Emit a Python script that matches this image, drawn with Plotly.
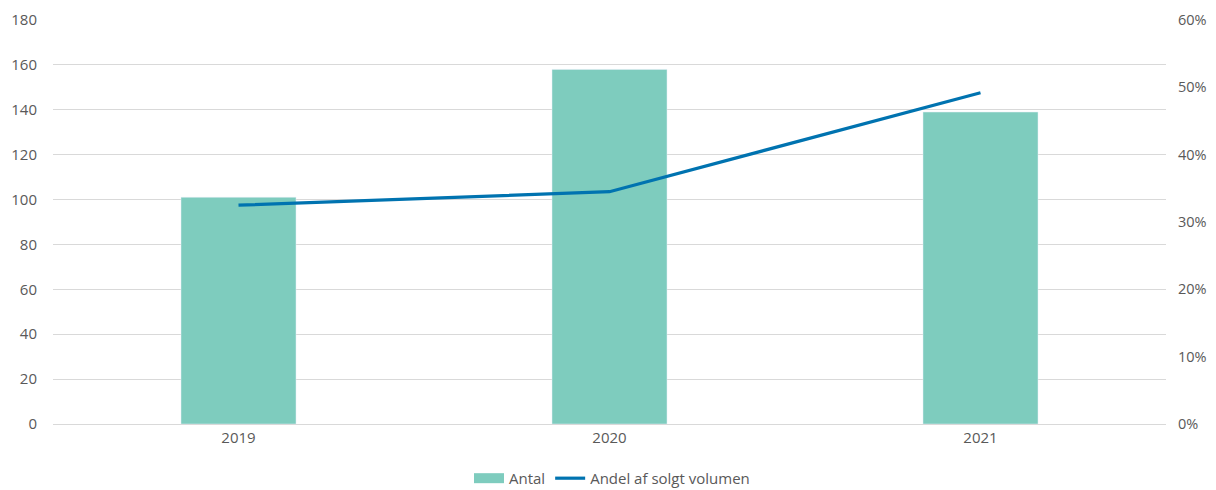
import plotly.graph_objects as go

years = ["2019", "2020", "2021"]
antal = [101, 158, 139]
andel = [0.325, 0.345, 0.492]

left_ticks = [0, 20, 40, 60, 80, 100, 120, 140, 160, 180]
right_ticks = [0, 0.1, 0.2, 0.3, 0.4, 0.5, 0.6]
right_labels = ["0%", "10%", "20%", "30%", "40%", "50%", "60%"]

font_fam = "Open Sans, Lato, sans-serif"
gray = "#595959"
bar_color = "#7ECCBE"

fig = go.Figure()
fig.add_trace(go.Bar(x=years, y=antal, name="Antal", marker_color=bar_color,
                     width=0.31, yaxis="y", showlegend=False, legendgroup="a"))
# legend-only entry to show a wide rectangle swatch like the original
fig.add_trace(go.Scatter(x=[None], y=[None], name="Antal", mode="lines",
                         line=dict(color=bar_color, width=12), legendgroup="a",
                         yaxis="y"))
fig.add_trace(go.Scatter(x=years, y=andel, name="Andel af solgt volumen",
                         mode="lines", line=dict(color="#0073B0", width=3.2),
                         yaxis="y2"))

# page body has an 8px default margin, so the figure is sized/offset accordingly
fig.update_layout(
    width=1208, height=482,
    margin=dict(l=45, r=50, t=12, b=66),
    plot_bgcolor="white", paper_bgcolor="white",
    font=dict(family=font_fam, size=15, color=gray),
    xaxis=dict(showgrid=False, showline=True, linecolor="#d9d9d9", linewidth=1,
               tickfont=dict(size=15, color=gray), ticks="", automargin=False),
    yaxis=dict(range=[0, 180], tickvals=left_ticks, showgrid=True,
               gridcolor="#d9d9d9", gridwidth=1, zeroline=False, showline=False,
               tickfont=dict(size=15, color=gray), ticklabelstandoff=15,
               automargin=False),
    yaxis2=dict(range=[0, 0.6], tickvals=right_ticks, ticktext=right_labels,
                overlaying="y", side="right", showgrid=False, zeroline=False,
                showline=False, tickfont=dict(size=14.5, color=gray),
                ticklabelstandoff=11, automargin=False),
    legend=dict(orientation="h", x=0.5, xanchor="center", xref="container",
                y=0.024, yanchor="middle", yref="container",
                font=dict(size=15, color=gray), traceorder="normal",
                itemwidth=30),
    bargap=0.69,
)

fig.write_html("out.html")
